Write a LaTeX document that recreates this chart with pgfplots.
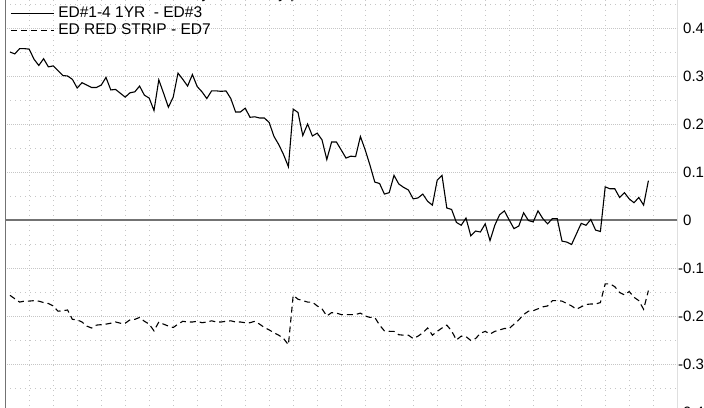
\documentclass[border=0pt]{standalone}
\usepackage{fontspec}
\setmainfont{Liberation Sans}
\usepackage{pgfplots}
\usepackage{pgfplotstable}
\pgfplotsset{compat=1.18}

\pgfplotstableread{
i s d
0 0.350 -0.157
1 0.346 -0.164
2 0.357 -0.171
3 0.357 -0.169
4 0.356 -0.169
5 0.335 -0.168
6 0.322 -0.169
7 0.336 -0.172
8 0.319 -0.174
9 0.321 -0.179
10 0.311 -0.190
11 0.301 -0.189
12 0.300 -0.1875
13 0.293 -0.207
14 0.275 -0.208
15 0.286 -0.2125
16 0.281 -0.221
17 0.276 -0.225
18 0.276 -0.219
19 0.281 -0.218
20 0.297 -0.217
21 0.271 -0.215
22 0.272 -0.2125
23 0.264 -0.215
24 0.256 -0.215
25 0.265 -0.208
26 0.267 -0.207
27 0.279 -0.203
28 0.260 -0.211
29 0.254 -0.217
30 0.228 -0.231
31 0.292 -0.2125
32 0.264 -0.217
33 0.235 -0.221
34 0.256 -0.224
35 0.306 -0.217
36 0.293 -0.211
37 0.279 -0.2125
38 0.303 -0.2125
39 0.278 -0.211
40 0.267 -0.214
41 0.253 -0.2125
42 0.269 -0.210
43 0.269 -0.2125
44 0.268 -0.2125
45 0.269 -0.211
46 0.253 -0.210
47 0.225 -0.2125
48 0.225 -0.2125
49 0.233 -0.214
50 0.214 -0.214
51 0.215 -0.211
52 0.2125 -0.217
53 0.2125 -0.224
54 0.203 -0.229
55 0.174 -0.235
56 0.157 -0.240
57 0.136 -0.247
58 0.111 -0.260
59 0.231 -0.157
60 0.224 -0.165
61 0.176 -0.168
62 0.200 -0.171
63 0.175 -0.171
64 0.181 -0.179
65 0.167 -0.185
66 0.126 -0.200
67 0.1625 -0.193
68 0.1625 -0.194
69 0.146 -0.197
70 0.129 -0.197
71 0.133 -0.197
72 0.132 -0.197
73 0.174 -0.194
74 0.146 -0.200
75 0.114 -0.203
76 0.079 -0.203
77 0.076 -0.219
78 0.054 -0.231
79 0.057 -0.232
80 0.093 -0.232
81 0.075 -0.239
82 0.068 -0.240
83 0.0625 -0.240
84 0.044 -0.247
85 0.046 -0.242
86 0.054 -0.235
87 0.039 -0.225
88 0.031 -0.240
89 0.083 -0.232
90 0.093 -0.225
91 0.025 -0.219
92 0.022 -0.231
93 -0.005 -0.250
94 -0.011 -0.242
95 0.004 -0.243
96 -0.033 -0.251
97 -0.023 -0.247
98 -0.025 -0.236
99 -0.008 -0.232
100 -0.043 -0.2375
101 -0.011 -0.232
102 0.011 -0.229
103 0.019 -0.226
104 0.000 -0.226
105 -0.018 -0.217
106 -0.0125 -0.208
107 0.015 -0.197
108 -0.001 -0.190
109 -0.004 -0.189
110 0.019 -0.185
111 0.003 -0.181
112 -0.008 -0.179
113 0.003 -0.168
114 0.003 -0.168
115 -0.044 -0.169
116 -0.046 -0.174
117 -0.051 -0.179
118 -0.029 -0.186
119 -0.007 -0.181
120 -0.011 -0.176
121 0.001 -0.175
122 -0.021 -0.175
123 -0.024 -0.172
124 0.069 -0.133
125 0.065 -0.133
126 0.065 -0.139
127 0.047 -0.151
128 0.057 -0.156
129 0.044 -0.149
130 0.036 -0.161
131 0.047 -0.168
132 0.031 -0.186
133 0.082 -0.147
}\datatable

\begin{document}
\begin{tikzpicture}
\useasboundingbox (0,0) rectangle (704bp,408bp);
\fill[white] (0,0) rectangle (704bp,408bp);
\clip (0,0) rectangle (704bp,408bp);
\begin{axis}[
  at={(5bp,-28bp)}, anchor=south west,
  scale only axis, width=672bp, height=456bp,
  xmin=-1.0417, xmax=138.9583,
  ymin=-0.45, ymax=0.5,
  axis line style={draw=none},
  xtick=\empty,
  extra x ticks={3.9583,8.9583,...,134},
  extra x tick labels={},
  extra x tick style={grid=major, major grid style={gray!45, line width=0.9bp, dash pattern=on 1bp off 4bp}},
  ytick={-0.4,-0.3,...,0.41},
  yticklabels={\llap{-}0.4,\llap{-}0.3,\llap{-}0.2,\llap{-}0.1,0,0.1,0.2,0.3,0.4},
  minor ytick={-0.45,-0.35,...,0.46},
  ymajorgrids=true, yminorgrids=true,
  major grid style={gray!45, line width=0.9bp, dash pattern=on 1bp off 1bp},
  minor grid style={gray!45, line width=0.9bp, dash pattern=on 1bp off 4bp},
  major tick length=0pt, minor tick length=0pt,
  yticklabel pos=right,
  yticklabel style={anchor=west, inner sep=0pt, xshift=6bp, font=\fontsize{15bp}{18bp}\selectfont},
  extra y ticks={0},
  extra y tick labels={},
  extra y tick style={grid=major, major grid style={black!55, line width=2bp, solid}},
  title={ED\#1-4 1YR\ \ - ED\#3 4: Daily Close only plot},
  title style={at={(axis description cs:0.00446,0.94627)}, anchor=base west, inner sep=0pt, font=\fontsize{15.5bp}{18bp}\selectfont},
  legend image code/.code={\draw[#1] (0bp,4bp) -- (43bp,4bp);},
  legend style={draw=none, fill=none, at={(axis description cs:0.00744,0.94232)}, anchor=north west,
    inner sep=0pt, row sep=3.4bp, column sep=4bp,
    nodes={inner sep=0pt, anchor=base west, text height=11bp, text depth=3bp},
    font=\fontsize{15.5bp}{18bp}\selectfont},
  legend cell align=left,
]
\addplot[black, line width=1.1bp] table[x=i, y=s] {\datatable};
\addlegendentry{ED\#1-4 1YR\ \ - ED\#3}
\addplot[black, line width=1.1bp, dash pattern=on 6bp off 4bp] table[x=i, y=d] {\datatable};
\addlegendentry{ED RED STRIP - ED7}
\draw[black!55, line width=2bp] (rel axis cs:0,0) -- (rel axis cs:0,1);
\draw[black, line width=1bp] (rel axis cs:1,0) -- (rel axis cs:1,1);
\end{axis}
\end{tikzpicture}
\end{document}
